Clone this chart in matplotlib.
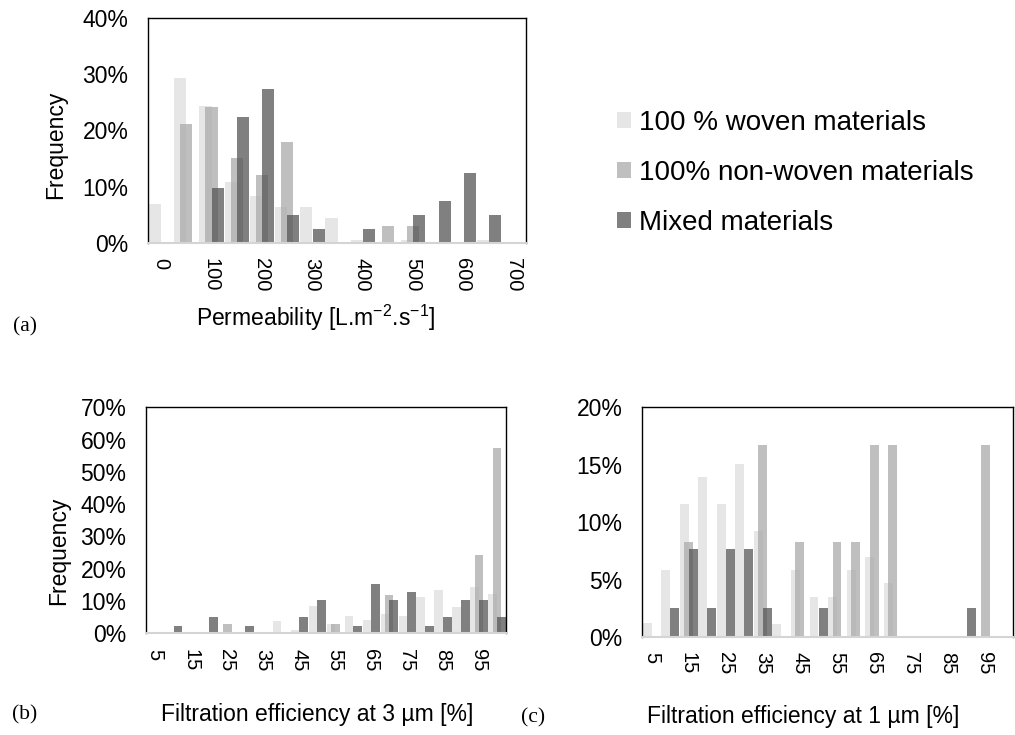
import matplotlib
matplotlib.use("Agg")
import matplotlib.pyplot as plt
import numpy as np

plt.rcParams['font.family'] = ['Liberation Sans', 'DejaVu Sans']
plt.rcParams['mathtext.fontset'] = 'custom'
plt.rcParams['mathtext.rm'] = 'Liberation Sans'
plt.rcParams['mathtext.it'] = 'Liberation Sans:italic'

series_names = ["100 % woven materials", "100% non-woven materials", "Mixed materials"]

# (a) permeability, bins of 50 L.m-2.s-1
perm_bins = [0, 50, 100, 150, 200, 250, 300, 350, 400, 450, 500, 550, 600, 650, 700]
perm_woven = [6.9, 29.4, 24.4, 10.8, 8.3, 6.3, 6.3, 4.4, 0.5, 0, 0.5, 0, 0, 0.5, 0]
perm_nonwoven = [0, 21.1, 24.1, 15.0, 12.1, 18.0, 0, 0, 0, 3.0, 3.0, 0, 0, 0, 0]
perm_mixed = [0, 0, 9.8, 22.3, 27.3, 4.9, 2.4, 0, 2.4, 0, 4.9, 7.5, 12.4, 4.9, 0]

# (b) filtration efficiency at 3 um, bins of 5 %
eff_bins = [5, 10, 15, 20, 25, 30, 35, 40, 45, 50, 55, 60, 65, 70, 75, 80, 85, 90, 95, 100]
eff3_woven = [0, 0, 0, 0, 0, 0.5, 0.5, 3.7, 1.0, 8.6, 2.9, 5.4, 4.2, 6.0, 5.4, 11.1, 13.5, 8.0, 14.3, 12.2]
eff3_nonwoven = [0, 0, 0, 0, 2.9, 0, 0, 0, 0, 0, 2.9, 0, 0, 12.0, 0, 0, 0, 0, 24.1, 57.4]
eff3_mixed = [0, 2.3, 0, 5.1, 0, 2.3, 0, 0, 5.1, 10.2, 0, 2.3, 15.4, 10.2, 12.8, 2.3, 5.1, 10.2, 10.2, 5.1]

# (c) filtration efficiency at 1 um
eff1_woven = [1.2, 5.8, 11.6, 13.9, 11.6, 15.1, 9.2, 1.1, 5.8, 3.5, 3.5, 5.8, 7.0, 4.7, 0, 0, 0, 0, 0, 0]
eff1_nonwoven = [0, 0, 8.3, 0, 0, 0, 16.7, 0, 8.3, 0, 8.3, 8.3, 16.7, 16.7, 0, 0, 0, 0, 16.7, 0]
eff1_mixed = [0, 2.5, 7.7, 2.5, 7.7, 7.7, 2.5, 0, 0, 2.5, 0, 0, 0, 0, 0, 0, 0, 2.5, 0, 0]

colors = ['#dedede', '#aaaaaa', '#565656']
offsets = [-0.22, 0.02, 0.27]
bar_w = 0.48

fig = plt.figure(figsize=(10.15, 7.35), dpi=100)


def draw_panel(rect, bins, woven, nonwoven, mixed, ymax, ystep):
    ax = fig.add_axes(rect)
    x = np.arange(len(bins))
    handles = []
    for vals, col, off in zip([woven, nonwoven, mixed], colors, offsets):
        h = ax.bar(x + off, vals, width=bar_w, color=col, alpha=0.75, linewidth=0)
        handles.append(h)
    ax.set_xlim(-0.5, len(bins) - 0.5)
    ax.set_ylim(0, ymax)
    ax.set_xticks(x[::2])
    ax.set_xticklabels([str(b) for b in bins[::2]], rotation=-90, fontsize=14.5)
    yt = np.arange(0, ymax + 0.1, ystep)
    ax.set_yticks(yt)
    ax.set_yticklabels(['%d%%' % v for v in yt], fontsize=16.5)
    ax.tick_params(length=0)
    ax.tick_params(axis='y', pad=14)
    ax.tick_params(axis='x', pad=11)
    for s in ['left', 'right', 'top']:
        ax.spines[s].set_color('black')
        ax.spines[s].set_linewidth(1.0)
    ax.spines['bottom'].set_color('#d4d4d4')
    ax.spines['bottom'].set_linewidth(1.5)
    return ax, handles


W, H = 1015.0, 735.0


def rect_px(l, t, r, b):
    return [l / W, 1 - b / H, (r - l) / W, (b - t) / H]


ax_a, handles = draw_panel(rect_px(148, 18, 526, 242.7), perm_bins,
                           perm_woven, perm_nonwoven, perm_mixed, 40, 10)
ax_b, _ = draw_panel(rect_px(146, 407.3, 505.7, 633.3), eff_bins,
                     eff3_woven, eff3_nonwoven, eff3_mixed, 70, 10)
ax_c, _ = draw_panel(rect_px(642, 407.3, 1012.7, 637), eff_bins,
                     eff1_woven, eff1_nonwoven, eff1_mixed, 20, 5)

# axis titles
fig.text(56 / W, 1 - 145 / H, "Frequency", rotation=90, fontsize=16.5, ha='center', va='center')
fig.text(59 / W, 1 - 551 / H, "Frequency", rotation=90, fontsize=16.5, ha='center', va='center')
fig.text(316 / W, 1 - 318 / H, r"Permeability [L.m$^{-2}$.s$^{-1}$]", fontsize=16.5, ha='center', va='center')
fig.text(317 / W, 1 - 714 / H, "Filtration efficiency at 3 µm [%]", fontsize=16.5, ha='center', va='center')
fig.text(803 / W, 1 - 716 / H, "Filtration efficiency at 1 µm [%]", fontsize=16.5, ha='center', va='center')

# panel letters
for lbl, px, py in [("(a)", 25, 327), ("(b)", 25, 715), ("(c)", 533, 718)]:
    fig.text(px / W, 1 - py / H, lbl, family='Liberation Serif', fontsize=15.5, ha='center', va='center')

fig.legend(handles, series_names, loc='upper left', bbox_to_anchor=(617 / W, 1 - 110 / H),
           frameon=False, fontsize=20, handlelength=0.5, handleheight=0.5,
           handletextpad=0.3, labelspacing=0.86, borderpad=0, borderaxespad=0)

fig.savefig("out.png", dpi=100)
